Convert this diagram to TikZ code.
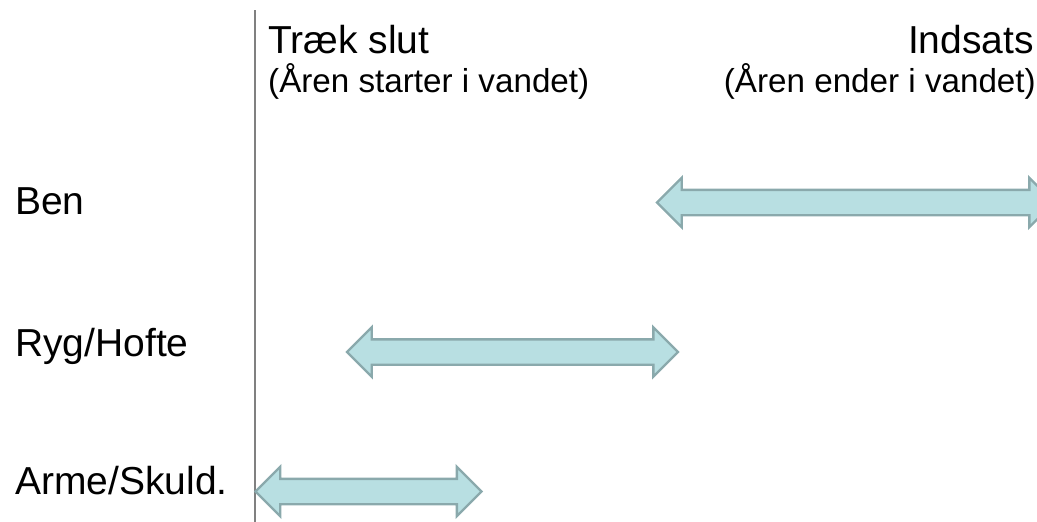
\documentclass[tikz,border=0pt]{standalone}
\usepackage{fontspec}
\setmainfont{Liberation Sans}
\definecolor{arrowfill}{RGB}{184, 223, 226}
\definecolor{arrowline}{RGB}{138, 169, 172}
\definecolor{divgray}{RGB}{128, 128, 128}
\usetikzlibrary{shapes.arrows, positioning}

\begin{document}
\begin{tikzpicture}[
        x=1pt, y=-1pt,
        label/.style={inner sep=0pt, font=\fontsize{39}{45}\selectfont},
        sublabel/.style={inner sep=0pt, font=\fontsize{33.2}{39}\selectfont},
        blockarrow/.style={double arrow, draw=arrowline, fill=arrowfill, line width=2.4pt,
            inner sep=0pt, text height=23pt, text depth=0pt, minimum width=47pt,
            double arrow head extend=12pt, double arrow tip angle=90},
        divider/.style={divgray, line width=2pt}
    ]
        \useasboundingbox (0,0) rectangle (1037,522);

        % time line
        \coordinate (top) at (255,10);
        \coordinate (bottom) at (255,522);
        \draw[divider] (top) -- (bottom);

        % phases
        \node[label, anchor=base west] (start) at (268,53) {Træk slut};
        \node[sublabel, anchor=base west] (startsub) at (268,92) {(Åren starter i vandet)};
        \node[label, anchor=base east] (end) at (1034,53) {Indsats};
        \node[sublabel, anchor=base east] (endsub) at (1036,92) {(Åren ender i vandet)};

        % body parts
        \node[label, anchor=base west] (ben) at (15,214) {Ben};
        \node[label, anchor=base west] (ryg) at (15,356) {Ryg/Hofte};
        \node[label, anchor=base west] (arme) at (15,494) {Arme/Skuld.};

        \node[blockarrow, minimum height=397pt] (benarrow) at (855.5,202.5) {};
        \node[blockarrow, minimum height=331pt] (rygarrow) at (512.5,352) {};
        \node[blockarrow, minimum height=226pt] (armearrow) at (368.5,491.5) {};
    \end{tikzpicture}
\end{document}
